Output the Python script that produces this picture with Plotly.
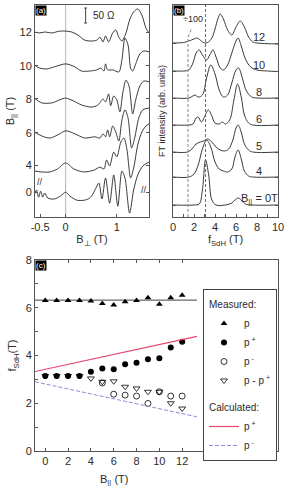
import plotly.graph_objects as go

W, H = 287, 486
FONT = "Liberation Sans, Arial, sans-serif"
INK = "#2b2b2b"
FRAME = "#555555"

# ---------------- Panel (a): magnetoresistance traces (ΔR in Ω vs B_perp in T)
A_LABELS = ["12", "10", "8", "6", "4", "0"]
A_OFFSET_OHM = [616, 503, 393, 280, 173, 83]

A12_B = [-0.61, -0.51, -0.41, -0.27, -0.12, 0.0, 0.12, 0.24, 0.37, 0.51, 0.61, 0.67, 0.73, 0.78, 0.84,
         0.92, 0.98, 1.04, 1.10, 1.18, 1.25, 1.33, 1.41, 1.49, 1.57, 1.63]
A12_R = [0, -3, 0, -3, 3, 3, 0, -10, -27, -30, -27, -17, -33, -13, -33,
         -3, 7, -17, -30, -3, 40, 67, 77, 57, 13, -3]

A10_B = [-0.61, -0.51, -0.37, -0.22, 0.0, 0.18, 0.31, 0.47, 0.61, 0.69, 0.75, 0.78, 0.82, 0.92, 1.04,
         1.10, 1.16, 1.22, 1.27, 1.31, 1.37, 1.45, 1.53, 1.63]
A10_R = [3, -7, -10, -3, 7, -3, -17, -17, -13, -7, -17, 7, -13, -13, -20,
         20, 93, 70, -7, -17, 7, 40, 50, 47]

A8_B = [-0.61, -0.47, -0.27, -0.12, 0.0, 0.16, 0.31, 0.51, 0.63, 0.73, 0.78, 0.84, 0.88, 0.94, 1.0,
        1.06, 1.12, 1.18, 1.24, 1.31, 1.37, 1.45, 1.53, 1.63]
A8_R = [3, -13, -13, -3, 3, -7, -20, -27, -20, 0, -10, 17, -23, 10, -3,
        -43, 23, 63, 43, -50, -3, 43, 60, 57]

A6_B = [-0.61, -0.47, -0.31, -0.16, 0.0, 0.18, 0.37, 0.57, 0.67, 0.73, 0.78, 0.82, 0.86, 0.92, 0.98,
        1.04, 1.10, 1.16, 1.22, 1.29, 1.35, 1.43, 1.51, 1.63]
A6_R = [3, -10, -17, -7, 7, -3, -17, -13, -17, -3, -13, 10, -13, 23, 3,
        -27, 43, 77, 50, -50, -17, 50, 77, 83]

A4_B = [-0.61, -0.47, -0.31, -0.16, 0.0, 0.16, 0.35, 0.55, 0.67, 0.75, 0.80, 0.86, 0.94, 1.0, 1.08,
        1.14, 1.20, 1.27, 1.33, 1.41, 1.49, 1.57, 1.63]
A4_R = [-20, -23, -23, -13, 7, -13, -23, -17, -7, -13, 17, -3, 43, 27, 77,
        90, 50, -43, -10, 67, 110, 130, 137]

A0_B = [-0.61, -0.57, -0.53, -0.49, -0.45, -0.41, -0.35, -0.22, -0.10, 0.0, 0.08, 0.22, 0.37, 0.47, 0.53,
        0.59, 0.65, 0.71, 0.78, 0.86, 0.94, 1.02, 1.10, 1.16, 1.25, 1.33, 1.41, 1.51, 1.63]
A0_R = [-7, 7, -17, 3, -17, -3, -20, -23, -13, 0, -13, -27, -27, -20, -7,
        13, 30, -23, 47, -37, 57, -47, 70, 47, -70, 7, 57, 87, 100]

A_B = [A12_B, A10_B, A8_B, A6_B, A4_B, A0_B]
A_R = [A12_R, A10_R, A8_R, A6_R, A4_R, A0_R]
SCALE_BAR_OHM = 50

# ---------------- Panel (b): Fourier spectra (intensity, arb. units vs f_SdH in T)
B_LABELS = ["12", "10", "8", "6", "5", "4", "B<sub>||</sub> = 0T"]
B_OFFSET = [174, 146, 119, 92, 65, 40, 12]

F12 = [0, 1.0, 1.5, 2.0, 2.3, 2.7, 3.0, 3.3, 3.7, 4.0, 4.3, 4.5, 4.8, 5.2, 5.6, 6.0, 6.4, 6.8, 7.2, 7.6, 8.0, 10.0]
I12 = [0, 0.5, 2, 4, 5, 2, 0, 0.5, 5, 14, 25, 29, 24, 13, 8, 16, 22, 16, 6, 1, 0, -1]
F10 = [0, 1.0, 1.5, 1.9, 2.2, 2.5, 2.8, 3.2, 3.5, 3.8, 4.1, 4.5, 4.8, 5.2, 5.6, 6.0, 6.2, 6.5, 6.9, 7.4, 8.0, 9.0, 10.0]
I10 = [0, 0, 1, 8, 18, 21, 16, 11, 16, 21, 14, 3, 1, 6, 18, 30, 33, 25, 12, 4, 1, 0, -0.5]
F8 = [0, 1.5, 1.9, 2.1, 2.4, 2.8, 3.2, 3.6, 4.0, 4.4, 4.8, 5.2, 5.6, 6.0, 6.25, 6.6, 7.0, 7.5, 8.0, 10.0]
I8 = [0, 0, 2, 3, 1, 3, 20, 33, 24, 8, 1, 3, 15, 28, 30, 20, 7, 1, 0, 0]
F6 = [0, 1.5, 1.9, 2.2, 2.4, 2.7, 3.0, 3.35, 3.7, 4.0, 4.4, 4.7, 5.0, 5.4, 5.8, 6.15, 6.5, 6.8, 7.2, 7.6, 10.0]
I6 = [0, 0, 1, 7, 8, 3, 8, 15, 9, 2, 1, 3, 1, 5, 25, 41, 28, 10, 2, 0, 0]
F5 = [0, 1.4, 1.8, 2.2, 2.6, 2.9, 3.3, 3.7, 4.1, 4.5, 4.9, 5.3, 5.7, 6.0, 6.2, 6.5, 6.8, 7.2, 7.6, 10.0]
I5 = [0, 0, 3, 8, 10, 11, 13, 10, 5, 2, 1, 3, 12, 24, 27, 20, 8, 2, 0, 0]
F4 = [0, 1.5, 2.0, 2.4, 2.8, 3.2, 3.6, 4.0, 4.4, 4.8, 5.2, 5.6, 5.9, 6.2, 6.5, 6.8, 7.2, 7.6, 10.0]
I4 = [0, 0, 3, 12, 28, 37, 30, 15, 8, 6, 5, 8, 20, 27, 18, 6, 1, 0, 0]
F0 = [0, 2.0, 2.5, 2.8, 3.1, 3.4, 3.7, 4.1, 5.0, 5.6, 5.9, 6.2, 6.5, 6.9, 7.5, 10.0]
I0 = [0, 0, 1, 15, 45, 30, 5, 0, 0, 2, 5, 7, 5, 1, 0, 0]

B_F = [F12, F10, F8, F6, F5, F4, F0]
B_I = [I12, I10, I8, I6, I5, I4, I0]
F_DIV100 = 1.43
F_REF = 3.1

# ---------------- Panel (c): frequencies vs B_parallel
BPAR = [0, 1, 2, 3, 4, 5, 6, 7, 8, 9, 10, 11, 12]
P_MEAS = [6.3, 6.3, 6.3, 6.3, 6.28, 6.18, 6.12, 6.25, 6.3, 6.42, 6.15, 6.42, 6.52]
PPLUS_MEAS = [3.14, 3.14, 3.14, 3.14, 3.32, 3.46, 3.42, 3.63, 3.7, 3.84, 3.88, 4.34, 4.58]
PMINUS_B = [5, 6, 7, 8, 9, 10, 11, 12]
PMINUS_MEAS = [2.85, 2.38, 2.34, 2.3, 1.99, 2.48, 2.3, 2.3]
DIFF_MEAS = [3.14, 3.14, 3.14, 3.14, 3.04, 2.9, 2.92, 2.69, 2.62, 2.48, 2.48, 2.0, 1.78]
CALC_B = [-0.9, 13.3]
CALC_PPLUS = [3.33, 4.8]
CALC_PMINUS = [2.9, 1.43]
P_AVG = 6.32

fig = go.Figure()

for b, r, off in zip(A_B, A_R, A_OFFSET_OHM):
    fig.add_trace(go.Scatter(x=b, y=[off + v for v in r], mode="lines",
                             line=dict(color="#3a3a3a", width=1, shape="spline", smoothing=0.8),
                             xaxis="x", yaxis="y", showlegend=False, hoverinfo="skip"))

for f, inten, off in zip(B_F, B_I, B_OFFSET):
    fig.add_trace(go.Scatter(x=f, y=[off + v for v in inten], mode="lines",
                             line=dict(color="#3a3a3a", width=1, shape="spline", smoothing=1.0),
                             xaxis="x2", yaxis="y2", showlegend=False, hoverinfo="skip"))

fig.add_trace(go.Scatter(x=CALC_B, y=[P_AVG, P_AVG], mode="lines", line=dict(color="#444444", width=1),
                         xaxis="x3", yaxis="y3", showlegend=False, hoverinfo="skip"))
fig.add_trace(go.Scatter(x=BPAR, y=DIFF_MEAS, mode="markers", name="p - p<sup> +</sup>",
                         marker=dict(symbol="triangle-down-open", size=6, color="black", line=dict(width=0.8)),
                         xaxis="x3", yaxis="y3", legendgroup="m", legendrank=4))
fig.add_trace(go.Scatter(x=BPAR, y=P_MEAS, mode="markers", name="p",
                         marker=dict(symbol="triangle-up", size=6, color="black"),
                         xaxis="x3", yaxis="y3", legendgroup="m", legendrank=1,
                         legendgrouptitle=dict(text="Measured:")))
fig.add_trace(go.Scatter(x=BPAR, y=PPLUS_MEAS, mode="markers", name="p<sup> +</sup>",
                         marker=dict(symbol="circle", size=6, color="black"),
                         xaxis="x3", yaxis="y3", legendgroup="m", legendrank=2))
fig.add_trace(go.Scatter(x=PMINUS_B, y=PMINUS_MEAS, mode="markers", name="p<sup> -</sup>",
                         marker=dict(symbol="circle-open", size=6, color="black", line=dict(width=0.8)),
                         xaxis="x3", yaxis="y3", legendgroup="m", legendrank=3))
fig.add_trace(go.Scatter(x=CALC_B, y=CALC_PPLUS, mode="lines", name="p<sup> +</sup>",
                         line=dict(color="#e8456e", width=1.2),
                         xaxis="x3", yaxis="y3", legendgroup="c", legendrank=5,
                         legendgrouptitle=dict(text="Calculated:")))
fig.add_trace(go.Scatter(x=CALC_B, y=CALC_PMINUS, mode="lines", name="p<sup> -</sup>",
                         line=dict(color="#8c8cd8", width=1, dash="4px,2px"),
                         xaxis="x3", yaxis="y3", legendgroup="c", legendrank=6))


def px_x(p):
    return p / W


def px_y(p):
    return 1 - p / H


tickfont = dict(family=FONT, size=11, color=INK)
axis_common = dict(showline=True, linecolor=FRAME, linewidth=1, ticks="inside", ticklen=3,
                   tickcolor=FRAME, showgrid=False, zeroline=False, tickfont=tickfont, automargin=False)

TOP = 5
BOT = 217

fig.update_layout(
    width=W, height=H, margin=dict(l=0, r=0, t=0, b=0),
    paper_bgcolor="white", plot_bgcolor="white",
    font=dict(family=FONT, size=10, color=INK),
    xaxis=dict(domain=[px_x(35), px_x(149)], range=[-0.6, 1.63], anchor="y",
               tickvals=[-0.5, 0, 1], ticktext=["-0.5", "0", "1"], mirror=True,
               title=dict(text="B<sub>⊥</sub> (T)", font=dict(size=11), standoff=3), **axis_common),
    yaxis=dict(domain=[px_y(BOT), px_y(TOP)], range=[0, 706], anchor="x",
               tickvals=A_OFFSET_OHM, ticktext=A_LABELS, mirror="ticks",
               title=dict(text="B<sub>||</sub> (T)", font=dict(size=11), standoff=2), **axis_common),
    xaxis2=dict(domain=[px_x(173), px_x(278)], range=[0, 10], anchor="y2",
                tickvals=list(range(11)), ticktext=["0", "", "2", "", "4", "", "6", "", "8", "", "10"], mirror=True,
                title=dict(text="f<sub>SdH</sub> (T)", font=dict(size=11), standoff=3), **axis_common),
    yaxis2=dict(domain=[px_y(BOT), px_y(TOP)], range=[0, 212], anchor="x2",
                tickvals=B_OFFSET, showticklabels=False, mirror="ticks",
                title=dict(text="FT intensity (arb. units)", font=dict(size=9), standoff=4), **axis_common),
    xaxis3=dict(domain=[px_x(35), px_x(278)], range=[-0.9, 20.4], anchor="y3",
                tickvals=[0, 2, 4, 6, 8, 10, 12], mirror="ticks", **axis_common),
    yaxis3=dict(domain=[px_y(451), px_y(260)], range=[0, 8], anchor="x3",
                tickvals=list(range(9)), ticktext=["0", "", "2", "", "4", "", "6", "", "8"], mirror=True,
                title=dict(text="f<sub>SdH</sub>(T)", font=dict(size=11), standoff=6), **axis_common),
    legend=dict(x=px_x(203), y=px_y(289), xanchor="left", yanchor="top", bgcolor="white",
                bordercolor="#444444", borderwidth=1, font=dict(family=FONT, size=10, color=INK),
                itemwidth=30, tracegroupgap=8, grouptitlefont=dict(size=10),
                traceorder="grouped"),
)

# panel (a) decorations
fig.add_shape(type="line", x0=0, x1=0, y0=0, y1=1, xref="x", yref="y domain",
              line=dict(color="#b5b5b5", width=1), layer="below")
fig.add_shape(type="line", x0=0.39, x1=0.39, y0=696, y1=696 - SCALE_BAR_OHM, xref="x", yref="y",
              line=dict(color="#444", width=1))
fig.add_shape(type="line", x0=0.36, x1=0.42, y0=696, y1=696, xref="x", yref="y", line=dict(color="#444", width=1))
fig.add_shape(type="line", x0=0.36, x1=0.42, y0=696 - SCALE_BAR_OHM, y1=696 - SCALE_BAR_OHM, xref="x", yref="y",
              line=dict(color="#444", width=1))
fig.add_annotation(x=0.5, y=696 - SCALE_BAR_OHM / 2, xref="x", yref="y", text=f"{SCALE_BAR_OHM} Ω", showarrow=False,
                   xanchor="left", font=dict(size=10))

# panel (b) decorations
fig.add_shape(type="line", x0=F_REF, x1=F_REF, y0=0, y1=1, xref="x2", yref="y2 domain",
              line=dict(color="#666", width=1, dash="3px,2px"))
fig.add_shape(type="path", path=f"M {F_DIV100} 0 L {F_DIV100} 180 L 1.8 189", xref="x2", yref="y2",
              line=dict(color="#888", width=1, dash="3px,2px"))
fig.add_annotation(x=1.9, y=191, xref="x2", yref="y2", text="÷100", showarrow=False, font=dict(size=9),
                   yanchor="bottom")

for lab, off in zip(B_LABELS, B_OFFSET):
    fig.add_annotation(x=8.2, y=off + 6, xref="x2", yref="y2", text=lab, showarrow=False, font=dict(size=11))

for xr, yr, tag in (("x", "y", "(a)"), ("x2", "y2", "(b)"), ("x3", "y3", "(c)")):
    fig.add_annotation(x=0, y=1, xref=f"{xr} domain", yref=f"{yr} domain", text=tag, showarrow=False,
                       xanchor="left", yanchor="top", bgcolor="black", font=dict(color="white", size=8),
                       borderpad=0)

# axis break marks on panel (a)
fig.add_annotation(x=0, y=115, xref="x domain", yref="y", text="//", showarrow=False, font=dict(size=9))
fig.add_annotation(x=1, y=90, xref="x domain", yref="y", text="//", showarrow=False, font=dict(size=9))

# x title for panel (c), centred on the measured range
fig.add_annotation(x=6, y=px_y(471), xref="x3", yref="paper", text="B<sub>||</sub> (T)", showarrow=False,
                   yanchor="top", font=dict(size=11))

fig.write_html("out.html", config={"displayModeBar": False},
               post_script="document.body.style.margin='0';document.body.style.overflow='hidden';")
